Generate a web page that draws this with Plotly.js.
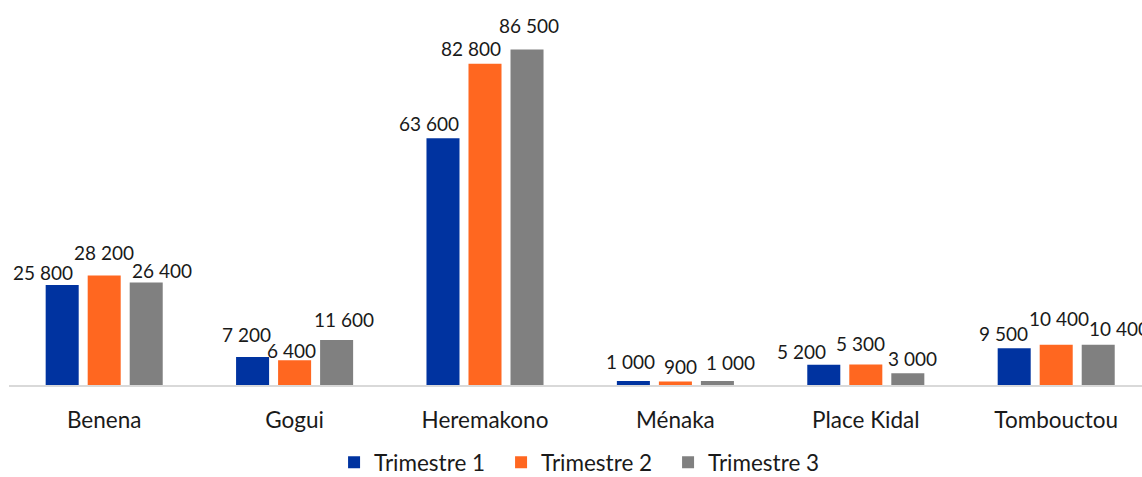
<!DOCTYPE html>
<html>
<head>
<meta charset="utf-8">
<script src="https://cdn.plot.ly/plotly-3.0.1.min.js"></script>
<style>
  html, body { margin: 0; padding: 0; background: #ffffff; overflow: hidden; }
  #chart { width: 1142px; height: 477px; }
</style>
</head>
<body>
<div id="chart"></div>
<script>
// Volumes par site et par trimestre
const categories = ["Benena", "Gogui", "Heremakono", "Ménaka", "Place Kidal", "Tombouctou"];
const seriesNames = ["Trimestre 1", "Trimestre 2", "Trimestre 3"];
const trimestre1 = [25800, 7200, 63600, 1000, 5200, 9500];
const trimestre2 = [28200, 6400, 82800, 900, 5300, 10400];
const trimestre3 = [26400, 11600, 86500, 1000, 3000, 10400];

const seriesValues = [trimestre1, trimestre2, trimestre3];
const seriesColors = ["#0033a0", "#ff6720", "#808080"];

// Pixel nudges [dx, dy] for each data label so neighbouring labels don't collide
const labelNudges = [
  [[-19, 0], [-6, -11], [-14, -2.5], [-3, -8], [-22, -1], [-11, -3]],
  [[0, -11.5], [-3, 2], [-14, -3], [5, -3.5], [-5, -9], [3, -14.5]],
  [[15.5, 0], [7, -8], [2, -12], [13, -7], [5, -3], [21, -4]]
];

const FONT = "Lato, 'Open Sans', sans-serif";
const barPitch = 42;     // distance between bar centres inside a group (px)
const labelLift = 12;    // label centre above bar top (px)

function formatValue(v) {
  return String(v).replace(/\B(?=(\d{3})+(?!\d))/g, " ");
}

const traces = seriesValues.map((vals, k) => ({
  type: "bar",
  name: seriesNames[k],
  x: categories,
  y: vals,
  marker: { color: seriesColors[k], line: { width: 0 } },
  hoverinfo: "skip"
}));

const annotations = [];
seriesValues.forEach((vals, k) => {
  vals.forEach((v, i) => {
    const [dx, dy] = labelNudges[k][i];
    annotations.push({
      x: categories[i],
      y: v,
      xref: "x",
      yref: "y",
      text: formatValue(v),
      showarrow: false,
      xanchor: "center",
      yanchor: "middle",
      xshift: (k - 1) * barPitch + dx,
      yshift: labelLift - dy,
      font: { family: FONT, size: 19, color: "#1a1a1a" }
    });
  });
});

const layout = {
  width: 1142,
  height: 477,
  margin: { l: 9, r: 0, t: 10, b: 92, autoexpand: false },
  paper_bgcolor: "#ffffff",
  plot_bgcolor: "#ffffff",
  barmode: "group",
  bargap: 0.338,
  bargroupgap: 0.214,
  showlegend: true,
  legend: {
    orientation: "h",
    x: 0.508,
    xanchor: "center",
    y: -0.207,
    yanchor: "middle",
    entrywidth: 122,
    entrywidthmode: "pixels",
    font: { family: FONT, size: 22.5, color: "#1a1a1a" },
    traceorder: "normal"
  },
  xaxis: {
    type: "category",
    range: [-0.5, 5.4506],
    showgrid: false,
    zeroline: false,
    showline: true,
    linecolor: "#d9d9d9",
    linewidth: 2,
    ticks: "",
    ticklabelstandoff: 14,
    tickfont: { family: FONT, size: 22.5, color: "#1a1a1a" },
    fixedrange: true
  },
  yaxis: {
    range: [0, 96650],
    visible: false,
    showgrid: false,
    zeroline: false,
    fixedrange: true
  },
  annotations: annotations,
  font: { family: FONT }
};

Plotly.newPlot("chart", traces, layout, { displayModeBar: false, staticPlot: true });
</script>
</body>
</html>
